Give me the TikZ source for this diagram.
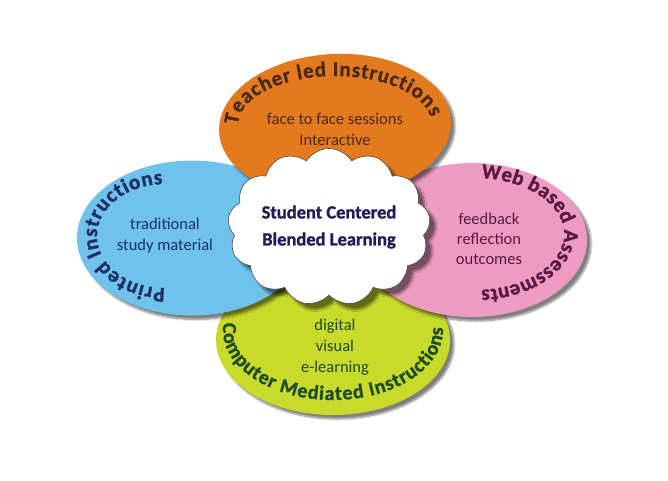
\documentclass[tikz,border=0pt]{standalone}
\usepackage{fontspec}
\setmainfont{Carlito}
\newfontfamily\heavyfont[FakeBold=1.2]{Carlito Bold}
\usetikzlibrary{shapes.geometric,shapes.symbols,shadows.blur,decorations.text}
\definecolor{orangeF}{HTML}{E47A1E}
\definecolor{orangeT}{HTML}{4B2A1C}
\definecolor{blueF}{HTML}{6EC2EC}
\definecolor{blueT}{HTML}{1E2F63}
\definecolor{pinkF}{HTML}{EE9BC1}
\definecolor{pinkT}{HTML}{5A1846}
\definecolor{greenF}{HTML}{C8DA2A}
\definecolor{greenT}{HTML}{1F4D2A}
\definecolor{cloudT}{HTML}{27185A}
\newcommand\myttl{\fontsize{21}{23}\selectfont\heavyfont}
\newcommand\myttlg{\fontsize{20}{22}\selectfont\heavyfont}
\begin{document}
\begin{tikzpicture}[x=1pt,y=1pt,
  petal/.style={ellipse, inner sep=0pt, outer sep=0pt,
    blur shadow={shadow xshift=4pt, shadow yshift=-4pt, shadow blur steps=8, shadow opacity=50}},
  inner/.style={align=center, font=\fontsize{16.5}{21}\selectfont},
  arctext/.style={decorate, decoration={text along path, text align={fit to path}, text color=#1}}
]
\useasboundingbox (0,0) rectangle (668,-480);
% petals
\node[petal, fill=greenF, minimum width=234, minimum height=150] (green) at (333,-340) {};
\node[petal, fill=blueF, minimum width=230, minimum height=155] (blue) at (192,-238) {};
\node[petal, fill=pinkF, minimum width=230, minimum height=154] (pink) at (472,-240) {};
\node[petal, fill=orangeF, minimum width=232, minimum height=144, rotate=3] (orange) at (335,-126) {};
% cloud
\node[cloud, cloud puffs=13, cloud puff arc=115, aspect=1.4, fill=white, draw=black!70, line width=0.6pt,
  minimum width=202, minimum height=144, inner sep=0pt, align=center,
  font=\fontsize{18.5}{27}\selectfont\heavyfont, text=cloudT,
  blur shadow={shadow xshift=6pt, shadow yshift=-6pt, shadow blur steps=8, shadow opacity=50}]
  (core) at (329,-227) {Student Centered\\Blended Learning};
% inner texts
\node[inner, text=orangeT] (otxt) at (335,-129) {face to face sessions\\Interactive};
\node[inner, text=blueT] (btxt) at (165,-236) {traditional\\study material};
\node[inner, text=pinkT, font=\fontsize{16.5}{20}\selectfont] (ptxt) at (489,-238.5) {feedback\\reflection\\outcomes};
\node[inner, text=greenT] (gtxt) at (335,-347.5) {digital\\visual\\e-learning};
% arched titles
\path[arctext=orangeT, decoration={text={|\myttl|Teacher led Instructions}}]
  ([shift={(180:97 and 49)}]335,-125) arc[start angle=180, end angle=9, x radius=97, y radius=49];
\path[arctext=blueT, decoration={text={|\myttl|Printed Instructions}}]
  ([shift={(270:68 and 52)}]165,-236) arc[start angle=270, end angle=92, x radius=68, y radius=52];
\path[arctext=pinkT, decoration={text={|\myttl|Web based Assessments}}]
  ([shift={(86:89 and 56)}]475,-234) arc[start angle=86, end angle=-86, x radius=89, y radius=56];
\path[arctext=greenT, decoration={text={|\myttlg|Computer Mediated Instructions}}]
  ([shift={(174:110 and 70)}]333,-330) arc[start angle=174, end angle=362, x radius=110, y radius=70];
\end{tikzpicture}
\end{document}
